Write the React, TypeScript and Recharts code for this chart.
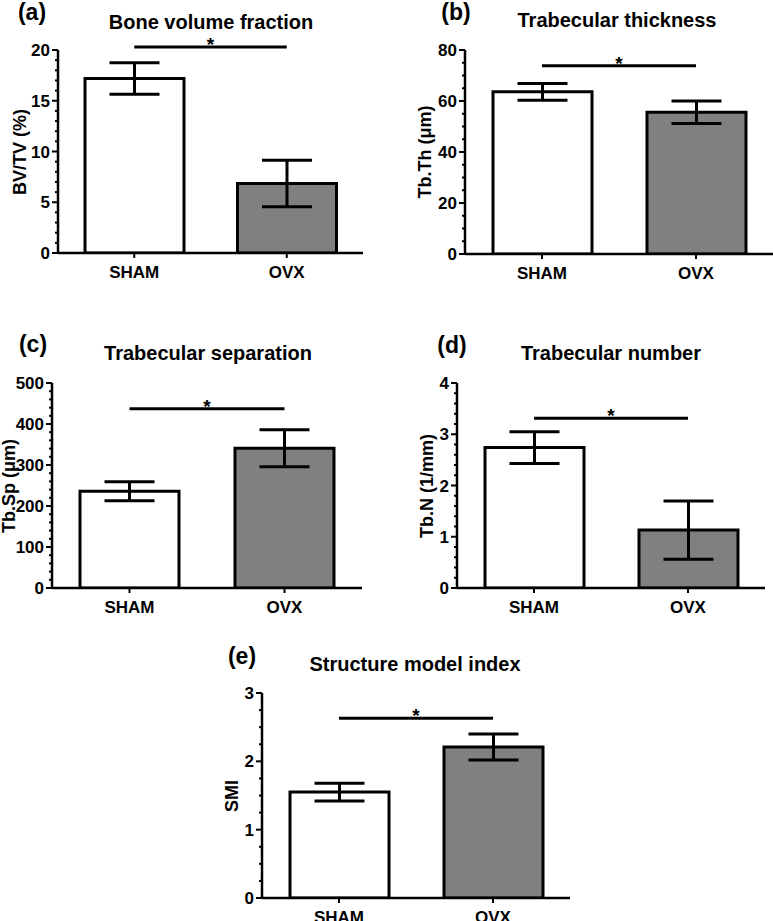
import React from 'react'
import { BarChart, Bar, XAxis, YAxis, Cell, ErrorBar, ReferenceLine } from 'recharts'

const groups = ['SHAM', 'OVX']
const barFills = ['#ffffff', '#808080']

const bvtvMean = [17.2, 6.85]
const bvtvSem = [1.55, 2.3]
const bvtvTicks = [0, 5, 10, 15, 20]

const tbthMean = [63.6, 55.6]
const tbthSem = [3.3, 4.4]
const tbthTicks = [0, 20, 40, 60, 80]

const tbspMean = [236, 341]
const tbspSem = [23, 45]
const tbspTicks = [0, 100, 200, 300, 400, 500]

const tbnMean = [2.74, 1.13]
const tbnSem = [0.31, 0.57]
const tbnTicks = [0, 1, 2, 3, 4]

const smiMean = [1.55, 2.21]
const smiSem = [0.13, 0.19]
const smiTicks = [0, 1, 2, 3]

// height of the "*" bracket in data units
const sigLevels = [20.3, 73.8, 437, 3.31, 2.63]

const FONT = '"Liberation Sans", Arial, sans-serif'
const Y_W = 60
const T = 20
const X_H = 30
const B = 4
const R = 2

type PanelCfg = {
  letter: string
  title: string
  yLabel: string
  mean: number[]
  sem: number[]
  ticks: number[]
  minorPerMajor: number
  sig: number
  plotLeft: number
  plotTop: number
  plotW: number
  plotH: number
  titleX: number
  titleY: number
  letterX: number
  letterY: number
  yLabelX: number
}

const panels: PanelCfg[] = [
  { letter: '(a)', title: 'Bone volume fraction', yLabel: 'BV/TV (%)', mean: bvtvMean, sem: bvtvSem, ticks: bvtvTicks, minorPerMajor: 5, sig: sigLevels[0],
    plotLeft: 58, plotTop: 50, plotW: 305, plotH: 203, titleX: 211, titleY: 22, letterX: 32, letterY: 12, yLabelX: 20 },
  { letter: '(b)', title: 'Trabecular thickness', yLabel: 'Tb.Th (\u03bcm)', mean: tbthMean, sem: tbthSem, ticks: tbthTicks, minorPerMajor: 4, sig: sigLevels[1],
    plotLeft: 465, plotTop: 50, plotW: 308, plotH: 204, titleX: 617, titleY: 20, letterX: 456, letterY: 12, yLabelX: 425 },
  { letter: '(c)', title: 'Trabecular separation', yLabel: 'Tb.Sp (\u03bcm)', mean: tbspMean, sem: tbspSem, ticks: tbspTicks, minorPerMajor: 5, sig: sigLevels[2],
    plotLeft: 52, plotTop: 383, plotW: 310, plotH: 205, titleX: 208, titleY: 353, letterX: 33, letterY: 344, yLabelX: 9 },
  { letter: '(d)', title: 'Trabecular number', yLabel: 'Tb.N (1/mm)', mean: tbnMean, sem: tbnSem, ticks: tbnTicks, minorPerMajor: 5, sig: sigLevels[3],
    plotLeft: 457, plotTop: 383, plotW: 308, plotH: 205, titleX: 611, titleY: 353, letterX: 452, letterY: 345, yLabelX: 427 },
  { letter: '(e)', title: 'Structure model index', yLabel: 'SMI', mean: smiMean, sem: smiSem, ticks: smiTicks, minorPerMajor: 4, sig: sigLevels[4],
    plotLeft: 262, plotTop: 693, plotW: 308, plotH: 205, titleX: 415, titleY: 664, letterX: 242, letterY: 656, yLabelX: 232 },
]

function withMinor(majors: number[], n: number) {
  const out: number[] = []
  for (let i = 0; i < majors.length; i++) {
    out.push(majors[i])
    if (i < majors.length - 1) {
      const step = (majors[i + 1] - majors[i]) / n
      for (let k = 1; k < n; k++) out.push(Math.round((majors[i] + k * step) * 1000) / 1000)
    }
  }
  return out
}

const txt: React.CSSProperties = {
  position: 'absolute',
  fontFamily: FONT,
  fontWeight: 700,
  lineHeight: 1,
  whiteSpace: 'nowrap',
  color: '#000',
}

function Panel({ cfg }: { cfg: PanelCfg }) {
  const data = groups.map((g, i) => ({ name: g, mean: cfg.mean[i], sem: cfg.sem[i] }))
  const allTicks = withMinor(cfg.ticks, cfg.minorPerMajor)
  const max = cfg.ticks[cfg.ticks.length - 1]
  const width = Y_W + cfg.plotW + R
  const height = T + cfg.plotH + X_H + B
  const axisY = T + cfg.plotH

  const yTick = (p: any) => {
    const v = p.payload.value
    const major = cfg.ticks.includes(v)
    return (
      <g>
        <line x1={Y_W - (major ? 6 : 3)} x2={Y_W} y1={p.y} y2={p.y} stroke="#000" strokeWidth={2} />
        {major && (
          <text x={Y_W - 8} y={p.y + 6} textAnchor="end" fontSize={17} fontWeight={700} fontFamily={FONT} fill="#000">
            {v}
          </text>
        )}
      </g>
    )
  }

  const xTick = (p: any) => (
    <g>
      <line x1={p.x} x2={p.x} y1={axisY} y2={axisY + 5} stroke="#000" strokeWidth={2} />
      <text x={p.x} y={axisY + 25} textAnchor="middle" fontSize={17} fontWeight={700} fontFamily={FONT} fill="#000">
        {p.payload.value}
      </text>
    </g>
  )

  const star = (p: any) => {
    const vb = p.viewBox || { x: 0, y: 0, width: 0 }
    return (
      <text x={vb.x + vb.width / 2} y={vb.y + 4} textAnchor="middle" fontSize={19} fontWeight={700} fontFamily={FONT} fill="#000">
        *
      </text>
    )
  }

  return (
    <>
      <div style={{ position: 'absolute', left: cfg.plotLeft - Y_W, top: cfg.plotTop - T }}>
        <BarChart width={width} height={height} data={data} margin={{ top: T, right: R, bottom: B, left: 0 }} barSize={99}>
          <XAxis dataKey="name" height={X_H} interval={0} axisLine={{ stroke: '#000', strokeWidth: 2.5 }} tickLine={false} tick={xTick} />
          <YAxis
            domain={[0, max]}
            ticks={allTicks}
            interval={0}
            width={Y_W}
            allowDataOverflow
            axisLine={{ stroke: '#000', strokeWidth: 2.5 }}
            tickLine={false}
            tickSize={0}
            tick={yTick}
          />
          <Bar dataKey="mean" isAnimationActive={false} stroke="#000" strokeWidth={3}>
            {data.map((d, i) => (
              <Cell key={d.name} fill={barFills[i]} />
            ))}
            <ErrorBar dataKey="sem" direction="y" width={25} stroke="#000" strokeWidth={3} isAnimationActive={false} />
          </Bar>
          <ReferenceLine
            segment={[{ x: groups[0], y: cfg.sig }, { x: groups[1], y: cfg.sig }]}
            stroke="#000"
            strokeWidth={3}
            ifOverflow="visible"
            label={star}
          />
        </BarChart>
      </div>
      <div style={{ ...txt, left: cfg.titleX, top: cfg.titleY, fontSize: 20, transform: 'translate(-50%, -50%)' }}>{cfg.title}</div>
      <div style={{ ...txt, left: cfg.letterX, top: cfg.letterY, fontSize: 23, transform: 'translate(-50%, -50%)' }}>{cfg.letter}</div>
      <div
        style={{
          ...txt,
          left: cfg.yLabelX,
          top: cfg.plotTop + cfg.plotH / 2,
          fontSize: 18,
          transform: 'translate(-50%, -50%) rotate(-90deg)',
        }}
      >
        {cfg.yLabel}
      </div>
    </>
  )
}

export default function App() {
  return (
    <div style={{ position: 'absolute', left: 0, top: 0, width: 773, height: 921, background: '#fff', overflow: 'hidden', fontFamily: FONT }}>
      {panels.map((p) => (
        <Panel key={p.letter} cfg={p} />
      ))}
    </div>
  )
}
